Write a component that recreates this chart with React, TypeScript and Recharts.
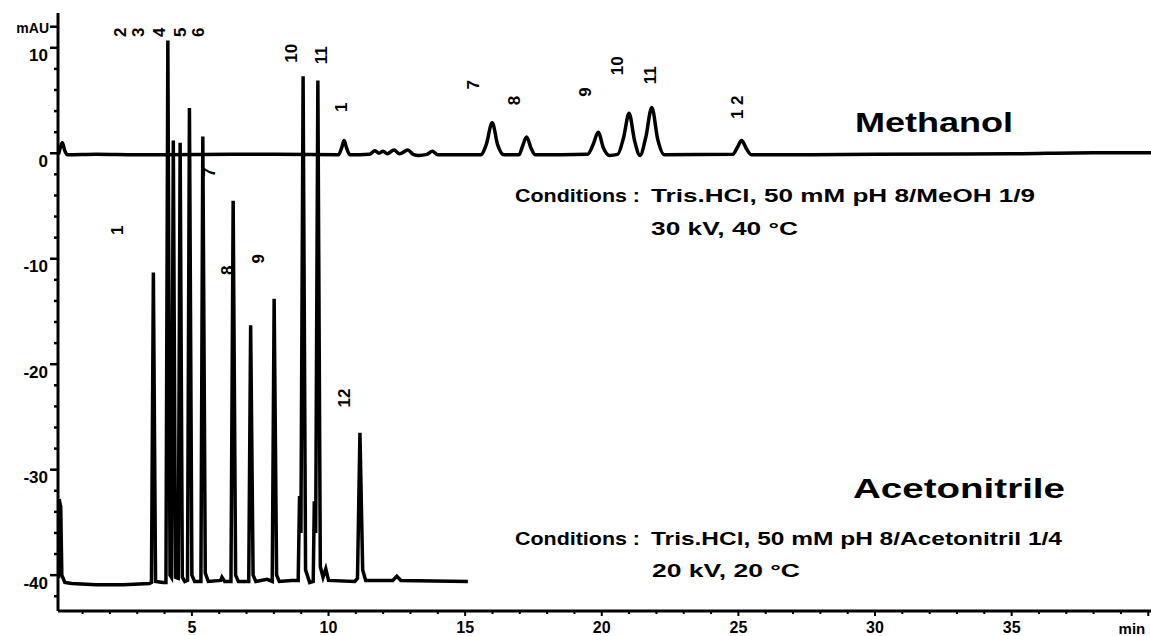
import React from 'react';
import { ComposedChart, Line, Scatter, XAxis, YAxis } from 'recharts';

// migration time (min), absorbance (mAU)
const methanolTrace: [number, number][] = [
  [0.12, -0.1], [0.18, 0.5], [0.26, 1.0], [0.34, 0.3], [0.45, -0.15], [1.5, -0.1], [3.0, -0.15],
  [4.0, -0.15], [6.5, -0.1], [8.0, -0.1], [10.36, -0.15], [10.48, 0.5], [10.57, 1.2], [10.66, 0.5],
  [10.78, -0.15], [11.5, -0.1], [11.7, 0.25], [11.85, 0.0], [12.0, 0.2], [12.15, -0.05], [12.4, 0.3],
  [12.6, -0.05], [12.9, 0.3], [13.1, -0.1], [13.3, -0.2], [13.6, -0.1], [13.8, 0.2], [14.0, -0.15],
  [15.57, -0.15], [15.77, 0.8], [15.99, 2.9], [16.19, 0.8], [16.42, -0.15], [16.97, -0.15],
  [17.09, 0.6], [17.25, 1.55], [17.41, 0.5], [17.57, -0.15], [19.48, -0.1], [19.68, 0.8],
  [19.87, 2.0], [20.06, 0.5], [20.28, -0.2], [20.58, -0.1], [20.8, 1.5], [21.0, 3.8], [21.2, 1.2],
  [21.4, -0.2], [21.61, 1.5], [21.83, 4.35], [22.05, 1.3], [22.29, -0.15], [24.8, -0.1],
  [24.95, 0.5], [25.12, 1.2], [25.3, 0.4], [25.48, -0.15], [30.0, -0.1], [35.0, -0.05],
  [38.0, 0.05], [40.1, 0.05],
];

const acetonitrileTrace: [number, number][] = [
  [0.12, -40.3], [0.14, -32.8], [0.2, -33.5], [0.24, -40.0], [0.35, -40.7], [0.6, -40.8],
  [1.5, -40.9], [2.5, -40.9], [3.45, -40.8], [3.52, -40.7], [3.59, -11.3], [3.67, -40.6],
  [3.95, -40.7], [4.05, -40.7], [4.12, 10.7], [4.2, -40.0], [4.25, -40.2], [4.32, 1.2],
  [4.4, -40.2], [4.5, -40.3], [4.57, 1.0], [4.65, -40.2], [4.74, -40.6], [4.84, -40.5],
  [4.91, 4.3], [5.0, -40.0], [5.1, -40.6], [5.33, -40.6], [5.4, 1.6], [5.49, -39.8],
  [5.6, -40.6], [6.05, -40.5], [6.1, -40.2], [6.2, -40.6], [6.43, -40.6], [6.51, -4.5],
  [6.6, -40.0], [6.7, -40.6], [7.08, -40.6], [7.15, -16.3], [7.24, -40.0], [7.34, -40.6],
  [7.75, -40.4], [7.94, -40.6], [8.01, -13.8], [8.1, -40.0], [8.2, -40.6], [8.65, -40.5],
  [8.89, -40.5], [8.94, -32.5], [8.99, -36.0], [9.07, 7.3], [9.16, -39.5], [9.31, -40.7],
  [9.44, -40.6], [9.48, -33.0], [9.53, -36.0], [9.61, 6.9], [9.7, -39.2], [9.8, -40.2],
  [9.9, -39.4], [10.0, -40.5], [10.96, -40.6], [11.06, -40.3], [11.15, -26.5], [11.25, -39.5],
  [11.36, -40.5], [12.35, -40.5], [12.5, -40.1], [12.65, -40.5], [15.1, -40.6],
];

const topPeakLabels = [
  { t: 2.37, v: 11.47, name: '2' }, { t: 3.03, v: 11.47, name: '3' }, { t: 3.83, v: 11.47, name: '4' },
  { t: 4.57, v: 11.47, name: '5' }, { t: 5.26, v: 11.47, name: '6' }, { t: 8.66, v: 9.48, name: '10' },
  { t: 9.76, v: 9.3, name: '11' },
];
const methanolPeakLabels = [
  { t: 10.49, v: 4.36, name: '1' }, { t: 15.3, v: 6.5, name: '7' }, { t: 16.82, v: 5.0, name: '8' },
  { t: 19.39, v: 5.8, name: '9' }, { t: 20.56, v: 8.3, name: '10' }, { t: 21.8, v: 7.4, name: '11' },
  { t: 24.95, v: 4.36, name: '1 2' },
];
const acetonitrilePeakLabels = [
  { t: 2.26, v: -7.3, name: '1' }, { t: 5.66, v: -1.8, name: '7' }, { t: 6.29, v: -11.1, name: '8' },
  { t: 7.42, v: -10.0, name: '9' }, { t: 10.6, v: -23.2, name: '12' },
];

const xTicks = Array.from({ length: 40 }, (_, i) => i + 1);
const yTicks = [-42, -40, -38, -36, -34, -32, -30, -28, -26, -24, -22, -20, -18, -16, -14, -12,
  -10, -8, -6, -4, -2, 0, 2, 4, 6, 8, 10, 12];

const FONT = '"Liberation Sans", Arial, sans-serif';

const toPoints = (rows: [number, number][]) => rows.map(([t, v]) => ({ t, v }));

function YTick(props: any) {
  const { x, y, payload } = props;
  const v = payload.value as number;
  const labelled = v % 10 === 0;
  const isUnit = v === 12;
  const len = labelled || isUnit ? 8 : 4;
  return (
    <g>
      <line x1={x - len} x2={x} y1={y} y2={y} stroke="#000" strokeWidth={2.5} />
      {labelled && (
        <text x={x - 10} y={y + 8} dominantBaseline="central" textAnchor="end" fontFamily={FONT}
          fontWeight="bold" fontSize={17} fill="#000">{v}</text>
      )}
      {isUnit && (
        <text x={x - 9} y={y + 1} dominantBaseline="central" textAnchor="end" fontFamily={FONT}
          fontWeight="bold" fontSize={14} fill="#000">mAU</text>
      )}
    </g>
  );
}

function XTick(props: any) {
  const { x, y, payload } = props;
  const v = payload.value as number;
  const major = v % 5 === 0;
  return (
    <g>
      <line x1={x} x2={x} y1={y} y2={y + (major ? 5 : 3)} stroke="#000" strokeWidth={2} />
      {major && v < 40 && (
        <text x={x} y={y + 16} dominantBaseline="central" textAnchor="middle" fontFamily={FONT}
          fontWeight="bold" fontSize={16} fill="#000">{v}</text>
      )}
      {v === 40 && (
        <text x={x - 3} y={y + 17} dominantBaseline="central" textAnchor="end" fontFamily={FONT}
          fontWeight="bold" fontSize={15} fill="#000">min</text>
      )}
    </g>
  );
}

function PeakLabel(props: any) {
  const { cx, cy, payload } = props;
  return (
    <text x={cx} y={cy} transform={`rotate(-90 ${cx} ${cy})`} textAnchor="middle" dominantBaseline="central"
      fontFamily={FONT} fontWeight="bold" fontSize={17} fill="#000">{payload.name}</text>
  );
}

function Notes() {
  const common = { fontFamily: FONT, fontWeight: 'bold' as const, fill: '#000' };
  return (
    <svg width={1151} height={636} style={{ position: 'absolute', left: 0, top: 0, pointerEvents: 'none' }}>
      <text x={855} y={132} fontSize={28} textLength={158} lengthAdjust="spacingAndGlyphs" {...common}>Methanol</text>
      <text x={515} y={202} fontSize={19} textLength={125} lengthAdjust="spacingAndGlyphs" {...common}>Conditions :</text>
      <text x={651} y={202} fontSize={19} textLength={384} lengthAdjust="spacingAndGlyphs" {...common}>Tris.HCl, 50 mM  pH 8/MeOH 1/9</text>
      <text x={651} y={235} fontSize={19} textLength={147} lengthAdjust="spacingAndGlyphs" {...common}>30 kV, 40 °C</text>
      <text x={853} y={498} fontSize={28} textLength={212} lengthAdjust="spacingAndGlyphs" {...common}>Acetonitrile</text>
      <text x={515} y={545} fontSize={19} textLength={125} lengthAdjust="spacingAndGlyphs" {...common}>Conditions :</text>
      <text x={651} y={545} fontSize={19} textLength={411} lengthAdjust="spacingAndGlyphs" {...common}>Tris.HCl, 50 mM pH 8/Acetonitril 1/4</text>
      <text x={652} y={577} fontSize={19} textLength={148} lengthAdjust="spacingAndGlyphs" {...common}>20 kV, 20 °C</text>
    </svg>
  );
}

export default function App() {
  return (
    <div style={{ position: 'absolute', left: 0, top: 0, width: 1151, height: 636, background: '#fff' }}>
      <ComposedChart width={1151} height={636} margin={{ top: 13, right: 0, bottom: 0, left: 0 }}>
        <XAxis type="number" dataKey="t" domain={[0.1, 40.1]} allowDataOverflow ticks={xTicks}
          interval={0} height={25} tickSize={0} tickMargin={0} tickLine={false}
          axisLine={{ stroke: '#000', strokeWidth: 3 }} tick={<XTick />} />
        <YAxis type="number" dataKey="v" domain={[-43.4, 13.3]} allowDataOverflow ticks={yTicks}
          interval={0} width={58} tickSize={0} tickMargin={0} tickLine={false}
          axisLine={{ stroke: '#000', strokeWidth: 3 }} tick={<YTick />} />
        <Line data={toPoints(methanolTrace)} dataKey="v" type="monotone" stroke="#000" strokeWidth={3.5}
          dot={false} isAnimationActive={false} />
        <Line data={toPoints(acetonitrileTrace)} dataKey="v" type="linear" stroke="#000" strokeWidth={3.5}
          dot={false} isAnimationActive={false} />
        <Scatter data={topPeakLabels} dataKey="v" shape={<PeakLabel />} isAnimationActive={false} />
        <Scatter data={methanolPeakLabels} dataKey="v" shape={<PeakLabel />} isAnimationActive={false} />
        <Scatter data={acetonitrilePeakLabels} dataKey="v" shape={<PeakLabel />} isAnimationActive={false} />
      </ComposedChart>
      <Notes />
    </div>
  );
}
